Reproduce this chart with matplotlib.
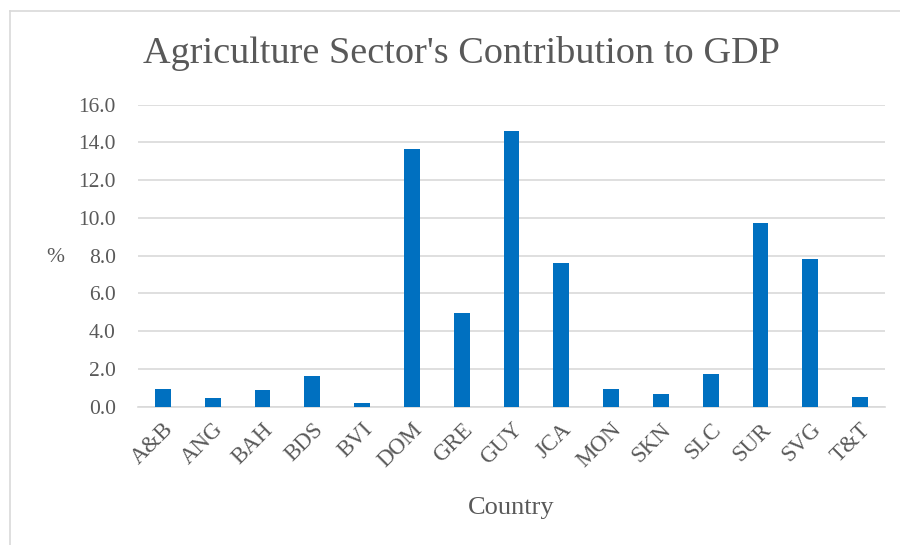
import matplotlib
matplotlib.use("Agg")
import matplotlib.pyplot as plt
from matplotlib.lines import Line2D

countries = ["A&B", "ANG", "BAH", "BDS", "BVI", "DOM", "GRE", "GUY",
             "JCA", "MON", "SKN", "SLC", "SUR", "SVG", "T&T"]
values = [0.91, 0.43, 0.87, 1.60, 0.19, 13.64, 4.97, 14.61,
          7.59, 0.95, 0.66, 1.74, 9.71, 7.82, 0.50]
yticks = [0, 2, 4, 6, 8, 10, 12, 14, 16]

plt.rcParams['font.family'] = ['Liberation Serif', 'DejaVu Serif']
gray = "#595959"

fig = plt.figure(figsize=(9, 5.45), dpi=100)
ax = fig.add_axes([138/900, 1-406.5/545, (885-138)/900, (406.5-104.7)/545])

x = list(range(len(countries)))
ax.bar(x, values, width=0.32, color="#0070C0", zorder=3)
ax.set_xlim(-0.5, len(countries)-0.5)
ax.set_ylim(0, 16)
ax.set_yticks(yticks)
ax.set_yticklabels([f"{v:.1f}" for v in yticks], color=gray, fontsize=15.5)
ax.set_xticks(x)
ax.set_xticklabels(countries, rotation=45, ha="right", rotation_mode="anchor",
                   color=gray, fontsize=16.5)
ax.tick_params(axis="y", length=0, pad=16)
ax.tick_params(axis="x", length=0, pad=9)
ax.grid(axis="y", color="#d9d9d9", linewidth=1.2, zorder=0)
for s in ["top", "right", "left"]:
    ax.spines[s].set_visible(False)
ax.spines["bottom"].set_color("#d9d9d9")
ax.spines["bottom"].set_linewidth(1.2)
ax.spines["bottom"].set_zorder(1)

fig.text(461/900, 1-63/545, "Agriculture Sector's Contribution to GDP",
         ha="center", va="baseline", fontsize=27.5, color=gray)
fig.text(55/900, 1-258/545, "%", ha="center", va="center", fontsize=15.5, color=gray)
fig.text(511/900, 1-514/545, "Country", ha="center", va="baseline", fontsize=19, color=gray)

# chart border (left and top edges visible)
fig.add_artist(Line2D([10/900, 10/900], [0, 1-11/545], transform=fig.transFigure,
                      color="#d9d9d9", linewidth=1.2))
fig.add_artist(Line2D([10/900, 1], [1-11/545, 1-11/545], transform=fig.transFigure,
                      color="#d9d9d9", linewidth=1.2))

fig.savefig("out.png", dpi=100)
